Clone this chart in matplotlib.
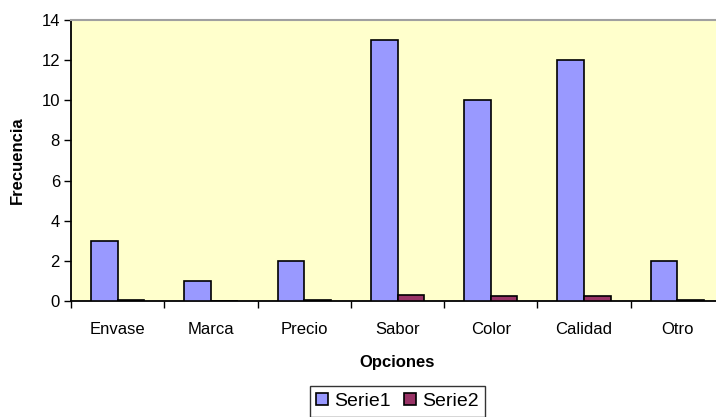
import matplotlib.pyplot as plt
import numpy as np

plt.rcParams["font.family"] = ["Liberation Sans", "DejaVu Sans"]

opciones = ["Envase", "Marca", "Precio", "Sabor", "Color", "Calidad", "Otro"]
serie1 = [3, 1, 2, 13, 10, 12, 2]
serie2 = [0.07, 0.0, 0.05, 0.30, 0.23, 0.23, 0.05]
yticks = [0, 2, 4, 6, 8, 10, 12, 14]

fig = plt.figure(figsize=(7.16, 4.17), dpi=100)
# plot area runs a little past the right edge of the canvas
ax = fig.add_axes([0.0992, 0.278, 0.912, 0.674])
ax.set_facecolor("#FFFFCC")

x = np.arange(len(opciones))
w = 0.286
ax.bar(x - w / 2, serie1, width=w, color="#9999FF", edgecolor="black",
       linewidth=1.2, label="Serie1", zorder=3)
ax.bar(x + w / 2, serie2, width=w, color="#993366", edgecolor="black",
       linewidth=1.2, label="Serie2", zorder=3)

ax.set_xlim(-0.5, len(opciones) - 0.5)
ax.set_ylim(0, 14)
ax.set_yticks(yticks)
ax.set_xticks(x)
ax.set_xticklabels(opciones)
ax.set_xticks(np.arange(len(opciones) + 1) - 0.5, minor=True)
ax.tick_params(axis="x", which="major", length=0, pad=15, labelsize=12)
ax.tick_params(axis="x", which="minor", length=5, width=1, direction="out")
ax.tick_params(axis="y", length=5, width=1, direction="out", labelsize=12, pad=3)

for side in ("left", "bottom"):
    ax.spines[side].set_color("black")
    ax.spines[side].set_linewidth(1.3)
ax.spines["top"].set_color("#A0A0A0")
ax.spines["top"].set_linewidth(1.5)
ax.spines["right"].set_visible(False)

ax.set_xlabel("Opciones", fontsize=12, fontweight="bold", labelpad=13)
ax.set_ylabel("Frecuencia", fontsize=12, fontweight="bold", labelpad=12)

leg = fig.legend(loc="upper center", bbox_to_anchor=(0.555, 0.074), ncol=2,
                 fontsize=14, frameon=True, fancybox=False, edgecolor="black",
                 handlelength=0.6, handleheight=0.6, handletextpad=0.3,
                 columnspacing=0.7, borderpad=0.35, borderaxespad=0)
leg.get_frame().set_linewidth(1.0)

fig.savefig("out.png", dpi=100)
